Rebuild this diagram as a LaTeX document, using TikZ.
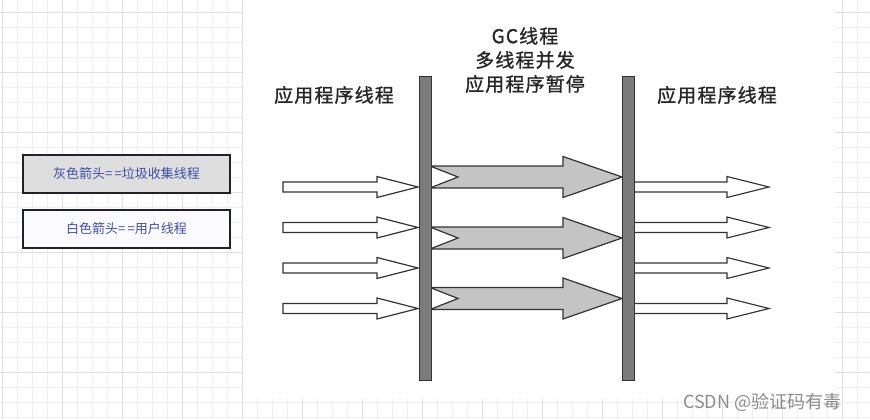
\documentclass[tikz,border=0pt]{standalone}
\usepackage{fontspec}
\usepackage{xcolor}
\newfontfamily\cjk{Noto Sans CJK SC}
\newfontfamily\cjkwide{Noto Sans CJK SC}[LetterSpace=6, FakeBold=1]
\definecolor{gridminor}{HTML}{EFEFEF}
\definecolor{gridmajor}{HTML}{E0E0E0}
\definecolor{barfill}{HTML}{7B7B7B}
\definecolor{edgeline}{HTML}{333333}
\definecolor{gcfill}{HTML}{C4C4C4}
\definecolor{legendtext}{HTML}{3F4FA8}
\definecolor{legendline}{HTML}{1F2329}
\definecolor{legendgray}{HTML}{DEDEDE}
\definecolor{legendwhite}{HTML}{FBFAFF}
\definecolor{watermark}{HTML}{8C8C8C}
\tikzstyle{legendbox} = [draw=legendline, line width=2pt, rectangle,
    minimum width=207pt, minimum height=38pt, inner sep=0pt,
    text=legendtext, font=\cjk\fontsize{13}{15}\selectfont]
\tikzstyle{threadtitle} = [inner sep=0pt, text=black!85,
    font=\cjkwide\fontsize{19}{24}\selectfont, align=center]
\tikzstyle{pausebar} = [draw=edgeline, fill=barfill, line width=1pt,
    rectangle, minimum width=12pt, minimum height=304pt, inner sep=0pt]
\tikzstyle{userarrow} = [draw=edgeline, fill=white, line width=1.2pt]
\tikzstyle{gcarrow} = [draw=edgeline, fill=gcfill, line width=1.2pt]

\begin{document}
\begin{tikzpicture}[x=1pt, y=-1pt]
\useasboundingbox (0,0) rectangle (870,420);
% background grid
\fill[white] (0,0) rectangle (870,420);
\foreach \x in {2.3,17.3,...,870} \draw[gridminor, line width=1pt] (\x,0) -- (\x,420);
\foreach \y in {12.3,27.3,...,420} \draw[gridminor, line width=1pt] (0,\y) -- (870,\y);
\foreach \x in {2.3,62.3,...,870} \draw[gridmajor, line width=1pt] (\x,0) -- (\x,420);
\foreach \y in {12.3,72.3,...,420} \draw[gridmajor, line width=1pt] (0,\y) -- (870,\y);
\fill[white] (243,0) rectangle (835,399);

% legend
\node[legendbox, fill=legendgray] (gclegend) at (126.5,174) {灰色箭头=\,=垃圾收集线程};
\node[legendbox, fill=legendwhite] (userlegend) at (126.5,229) {白色箭头=\,=用户线程};

% titles
\node[threadtitle] (lefttitle) at (334,95) {应用程序线程};
\node[threadtitle] (gctitle) at (525,60) {GC线程\\多线程并发\\应用程序暂停};
\node[threadtitle] (righttitle) at (717,95) {应用程序线程};

% user threads before and after the pause
\foreach \y in {187,227.5,268,308.5} {
  \draw[userarrow] (283,\y-5) -- (377,\y-5) -- (377,\y-10.5) -- (418,\y)
    -- (377,\y+10.5) -- (377,\y+5) -- (283,\y+5) -- cycle;
  \draw[userarrow] (632,\y-5) -- (727,\y-5) -- (727,\y-10.5) -- (769,\y)
    -- (727,\y+10.5) -- (727,\y+5) -- (632,\y+5) -- cycle;
}
% gc threads
\foreach \y in {177,238,298.5} {
  \draw[gcarrow] (430,\y-11) -- (563,\y-11) -- (563,\y-20.5) -- (622,\y)
    -- (563,\y+20.5) -- (563,\y+11) -- (430,\y+11) -- (458,\y) -- cycle;
}

% stop-the-world bars
\node[pausebar] (lbar) at (425.5,228.3) {};
\node[pausebar] (rbar) at (628.2,228.3) {};

\node[inner sep=0pt, text=watermark, font=\cjk\fontsize{18}{20}\selectfont,
    anchor=west] (mark) at (683,402) {CSDN @验证码有毒};
\end{tikzpicture}
\end{document}
